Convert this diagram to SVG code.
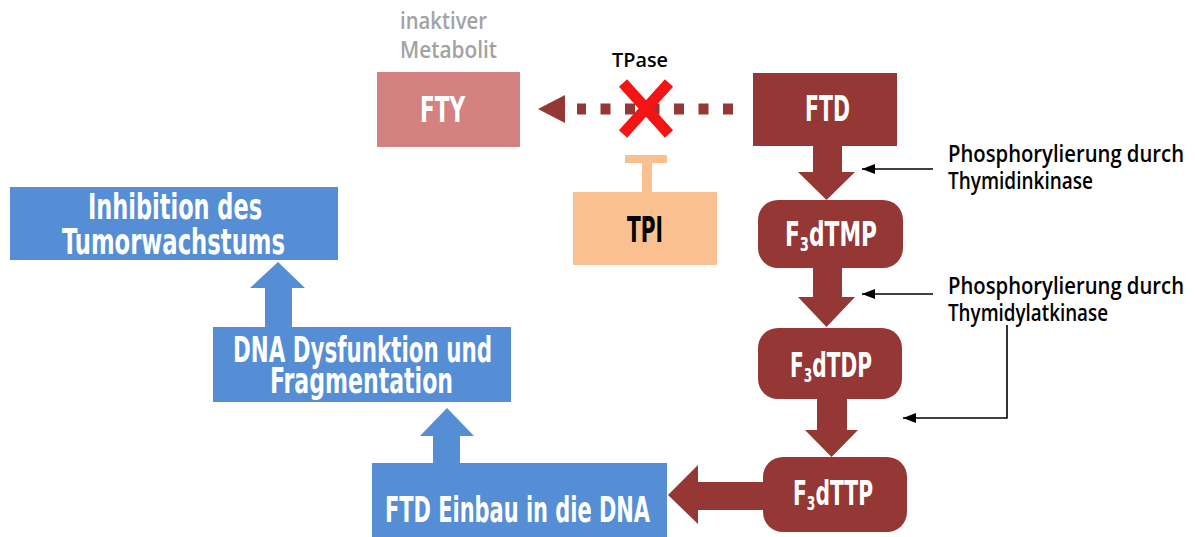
<svg xmlns="http://www.w3.org/2000/svg" width="1195" height="537" viewBox="0 0 1195 537">
<defs>
<style>
.dark{fill:#953735}
.blue{fill:#558ED5}
.cond{font-family:"DejaVu Sans Condensed","DejaVu Sans",sans-serif;font-weight:bold;font-stretch:condensed}
.wt{fill:#fff}
.lbl{font-family:"Open Sans","Noto Sans",sans-serif;font-weight:600}
.thin{fill:none;stroke:#000;stroke-width:1.6}
</style>
<marker id="ah" markerUnits="userSpaceOnUse" markerWidth="13" markerHeight="10" viewBox="0 0 13 10" refX="13" refY="5" orient="auto">
<path d="M0,0 L13,5 L0,10 z" fill="#000"/>
</marker>
</defs>
<rect width="1195" height="537" fill="#fff"/>

<g id="connectors">
<path d="M733,109 L577,109" stroke="#953735" stroke-width="11" stroke-dasharray="10 14.5" fill="none"/>
<polygon class="dark" points="538,109 565,95 565,123"/>
<polygon class="dark" points="813,146 842,146 842,172 855,172 826.5,200 798,172 813,172"/>
<polygon class="dark" points="813,268 842,268 842,297 855,297 826.5,327 798,297 813,297"/>
<polygon class="dark" points="817,399 847,399 847,430 858,430 831.5,457 805,430 817,430"/>
<polygon class="dark" points="768,482 698,482 698,465 668,495 698,524 698,510 768,510"/>
<polygon class="blue" points="433,463 433,436 420,436 447,408 474,436 460,436 460,463"/>
<polygon class="blue" points="265,327 265,288 250,288 278,262 305,288 292,288 292,327"/>
<path class="thin" d="M933,169 L862,169" marker-end="url(#ah)"/>
<path class="thin" d="M933,294 L862,294" marker-end="url(#ah)"/>
<path class="thin" d="M1007,325 L1007,418 L903,418" marker-end="url(#ah)"/>
</g>

<g id="inaktiv-label">
<text class="lbl" x="400" y="29" font-size="23" fill="#A3A3A3" textLength="87" lengthAdjust="spacingAndGlyphs">inaktiver</text>
<text class="lbl" x="400" y="58" font-size="23" fill="#A3A3A3" textLength="97" lengthAdjust="spacingAndGlyphs">Metabolit</text>
</g>

<g id="FTY">
<rect x="377" y="72" width="143" height="75" fill="#D38181"/>
<text class="cond wt" x="420" y="122" font-size="35" textLength="45" lengthAdjust="spacingAndGlyphs">FTY</text>
</g>

<g id="TPase">
<text class="lbl" x="612" y="67" font-size="20" fill="#000" textLength="56" lengthAdjust="spacingAndGlyphs">TPase</text>
<path d="M623,83 L669,134 M669,83 L623,134" stroke="#F41414" stroke-width="11" fill="none"/>
</g>

<g id="FTD">
<rect x="753" y="73" width="144" height="73" class="dark"/>
<text class="cond wt" x="805" y="121" font-size="35" textLength="45" lengthAdjust="spacingAndGlyphs">FTD</text>
</g>

<g id="TPI">
<rect x="625" y="155" width="42" height="8" fill="#FAC090"/>
<rect x="642" y="162" width="10" height="30" fill="#FAC090"/>
<rect x="573" y="192" width="144" height="73" fill="#FAC090"/>
<text class="cond" x="627" y="242" font-size="35" fill="#000" textLength="36" lengthAdjust="spacingAndGlyphs">TPI</text>
</g>

<g id="F3dTMP">
<rect x="758" y="200" width="145" height="68" rx="20" class="dark"/>
<text class="cond wt" x="785" y="246" font-size="33" textLength="92" lengthAdjust="spacingAndGlyphs">F<tspan font-size="20" dy="5">3</tspan><tspan dy="-5">dTMP</tspan></text>
</g>

<g id="F3dTDP">
<rect x="758" y="328" width="144" height="71" rx="20" class="dark"/>
<text class="cond wt" x="790" y="377" font-size="33" textLength="82" lengthAdjust="spacingAndGlyphs">F<tspan font-size="20" dy="5">3</tspan><tspan dy="-5">dTDP</tspan></text>
</g>

<g id="F3dTTP">
<rect x="763" y="457" width="144" height="75" rx="20" class="dark"/>
<text class="cond wt" x="793" y="505" font-size="33" textLength="80" lengthAdjust="spacingAndGlyphs">F<tspan font-size="20" dy="5">3</tspan><tspan dy="-5">dTTP</tspan></text>
</g>

<g id="label-thymidinkinase">
<text class="lbl" x="948" y="162" font-size="24" fill="#000" textLength="236" lengthAdjust="spacingAndGlyphs">Phosphorylierung durch</text>
<text class="lbl" x="948" y="189" font-size="24" fill="#000" textLength="145" lengthAdjust="spacingAndGlyphs">Thymidinkinase</text>
</g>

<g id="label-thymidylatkinase">
<text class="lbl" x="948" y="294" font-size="24" fill="#000" textLength="236" lengthAdjust="spacingAndGlyphs">Phosphorylierung durch</text>
<text class="lbl" x="948" y="321" font-size="24" fill="#000" textLength="160" lengthAdjust="spacingAndGlyphs">Thymidylatkinase</text>
</g>

<g id="FTD-Einbau">
<rect x="372" y="463" width="295" height="74" class="blue"/>
<text class="cond wt" x="385" y="522" font-size="35" textLength="265" lengthAdjust="spacingAndGlyphs">FTD Einbau in die DNA</text>
</g>

<g id="DNA-Dysfunktion">
<rect x="213" y="327" width="298" height="75" class="blue"/>
<text class="cond wt" x="233" y="362" font-size="35" textLength="259" lengthAdjust="spacingAndGlyphs">DNA Dysfunktion und</text>
<text class="cond wt" x="270" y="393" font-size="35" textLength="183" lengthAdjust="spacingAndGlyphs">Fragmentation</text>
</g>

<g id="Inhibition">
<rect x="10" y="187" width="328" height="73" class="blue"/>
<text class="cond wt" x="88" y="219" font-size="35" textLength="174" lengthAdjust="spacingAndGlyphs">Inhibition des</text>
<text class="cond wt" x="62" y="254" font-size="35" textLength="223" lengthAdjust="spacingAndGlyphs">Tumorwachstums</text>
</g>
</svg>
